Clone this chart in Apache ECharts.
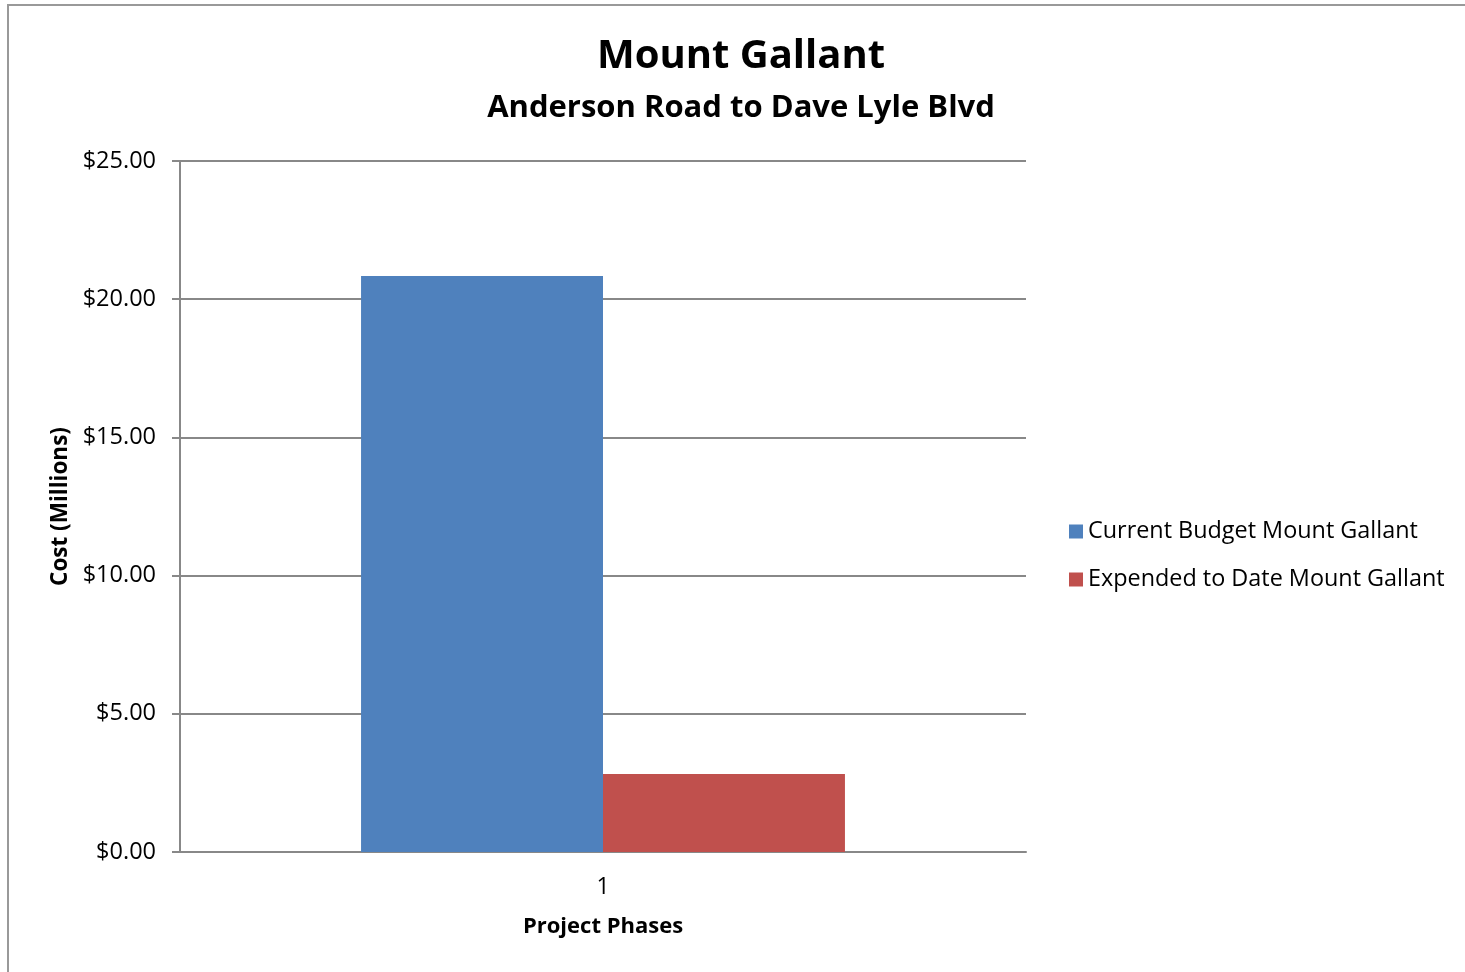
<!DOCTYPE html>
<html>
<head>
<meta charset="utf-8">
<script src="https://cdn.jsdelivr.net/npm/echarts@6/dist/echarts.min.js"></script>
<style>
html, body { margin: 0; padding: 0; background: #fff; }
.frame {
  position: absolute;
  left: 7px;
  top: 4px;
  width: 1470px;
  height: 980px;
  border: 2px solid #999;
  box-sizing: border-box;
}
#chart { position: absolute; left: 0; top: 0; width: 1465px; height: 972px; }
</style>
</head>
<body>
<div class="frame"></div>
<div id="chart"></div>
<script>
// phases on the x axis
const phases = ['1']
// cost in millions
const budgetValues = [20.84]
const expendedValues = [2.82]
const seriesNames = ['Current Budget Mount Gallant', 'Expended to Date Mount Gallant']

const font = 'Open Sans'
var myChart = echarts.init(document.getElementById('chart'))
const option = {
  animation: false,
  title: [
    {
      text: 'Mount Gallant',
      left: 736,
      top: 32,
      textAlign: 'center',
      textStyle: { fontFamily: font, fontSize: 40, fontWeight: 'bold', color: '#000' }
    },
    {
      text: 'Anderson Road to Dave Lyle Blvd',
      left: 736,
      top: 88,
      textAlign: 'center',
      textStyle: { fontFamily: font, fontSize: 31, fontWeight: 'bold', color: '#000' }
    }
  ],
  legend: {
    orient: 'vertical',
    left: 1064,
    top: 515,
    itemWidth: 14,
    itemHeight: 14,
    itemGap: 25,
    icon: 'rect',
    textStyle: { fontFamily: font, fontSize: 23.4, color: '#000' },
    data: seriesNames
  },
  grid: {
    left: 180,
    right: 439,
    top: 161,
    bottom: 120
  },
  xAxis: {
    type: 'category',
    data: phases,
    name: 'Project Phases',
    nameLocation: 'middle',
    nameGap: 64,
    nameTextStyle: { fontFamily: font, fontSize: 22, fontWeight: 'bold', color: '#000' },
    axisLine: { lineStyle: { color: '#888', width: 2 } },
    axisTick: { show: false },
    axisLabel: { fontFamily: font, fontSize: 23, color: '#000', margin: 24 }
  },
  yAxis: {
    type: 'value',
    min: 0,
    max: 25,
    interval: 5,
    name: 'Cost (Millions)',
    nameLocation: 'middle',
    nameRotate: 90,
    nameGap: 108,
    nameTextStyle: { fontFamily: font, fontSize: 22.5, fontWeight: 'bold', color: '#000' },
    axisLine: { show: true, lineStyle: { color: '#888', width: 2 } },
    axisTick: { show: true, length: 8, lineStyle: { color: '#888', width: 2 } },
    axisLabel: {
      fontFamily: font,
      fontSize: 23.5,
      color: '#000',
      margin: 24,
      formatter: function(v) { return '$' + v.toFixed(2) }
    },
    splitLine: { lineStyle: { color: '#888', width: 2 } }
  },
  series: [
    {
      name: seriesNames[0],
      type: 'bar',
      barGap: 0,
      barCategoryGap: '42.8%',
      itemStyle: { color: '#4F81BD' },
      data: budgetValues
    },
    {
      name: seriesNames[1],
      type: 'bar',
      itemStyle: { color: '#C0504D' },
      data: expendedValues
    }
  ]
}
myChart.setOption(option)
</script>
</body>
</html>
